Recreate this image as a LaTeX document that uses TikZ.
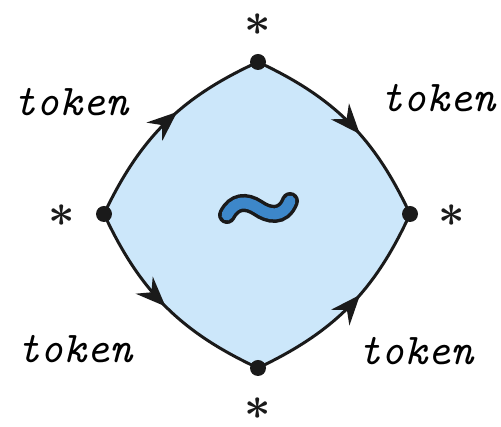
\documentclass[tikz,border=0pt]{standalone}
\usepackage{graphicx}
\usepackage{amsmath}
\usetikzlibrary{arrows.meta,decorations.markings}

\definecolor{areablue}{HTML}{CCE7FA}
\definecolor{tildeblue}{HTML}{3D87C9}
\definecolor{inkdark}{HTML}{1A1A1A}

\tikzset{
    vertex/.style={circle, fill=inkdark, inner sep=0pt, minimum size=16pt},
    starlabel/.style={inner sep=0pt, text=inkdark},
    tokenlabel/.style={inner sep=0pt, font=\fontsize{44}{48}\selectfont\ttfamily\itshape},
    edge/.style={draw=inkdark, line width=3pt},
    midarrow/.style={postaction={decorate}, decoration={markings,
        mark=at position #1 with {\arrow{Stealth[length=30pt, width=24pt, inset=10pt]}}}}
}

\newcommand{\bigast}{\scalebox{4.6}{$\boldsymbol{\ast}$}}

\begin{document}
\begin{tikzpicture}[x=1pt, y=1pt]

    \useasboundingbox (0,0) rectangle (501,427);

    \coordinate (top) at (258,365);
    \coordinate (left) at (104,213);
    \coordinate (right) at (410,213);
    \coordinate (bottom) at (258,59);

    % filled area
    \fill[areablue] (left) to[bend left=20] (top) to[bend left=20] (right)
        to[bend left=20] (bottom) to[bend left=20] (left);

    % edges
    \draw[edge, midarrow=0.57] (left) to[bend left=20] (top);
    \draw[edge, midarrow=0.57] (top) to[bend left=20] (right);
    \draw[edge, midarrow=0.5] (left) to[bend right=20] (bottom);
    \draw[edge, midarrow=0.57] (bottom) to[bend right=20] (right);

    % vertices
    \node[vertex] (vtop) at (top) {};
    \node[vertex] (vleft) at (left) {};
    \node[vertex] (vright) at (right) {};
    \node[vertex] (vbottom) at (bottom) {};

    \node[starlabel] (startop) at (258,402) {\bigast};
    \node[starlabel] (starleft) at (62,211) {\bigast};
    \node[starlabel] (starright) at (452,211) {\bigast};
    \node[starlabel] (starbottom) at (258,18) {\bigast};

    \node[tokenlabel] (tokentl) at (71,325) {token};
    \node[tokenlabel] (tokentr) at (438,329) {token};
    \node[tokenlabel] (tokenbl) at (75,78) {token};
    \node[tokenlabel] (tokenbr) at (416,76) {token};

    % tilde
    \draw[inkdark, line width=18pt, line cap=round]
        (227,212) .. controls (234,226) and (246,227) .. (258,219)
        .. controls (268,212) and (283,208) .. (290,226);
    \draw[tildeblue, line width=11pt, line cap=round]
        (227,212) .. controls (234,226) and (246,227) .. (258,219)
        .. controls (268,212) and (283,208) .. (290,226);

\end{tikzpicture}
\end{document}
